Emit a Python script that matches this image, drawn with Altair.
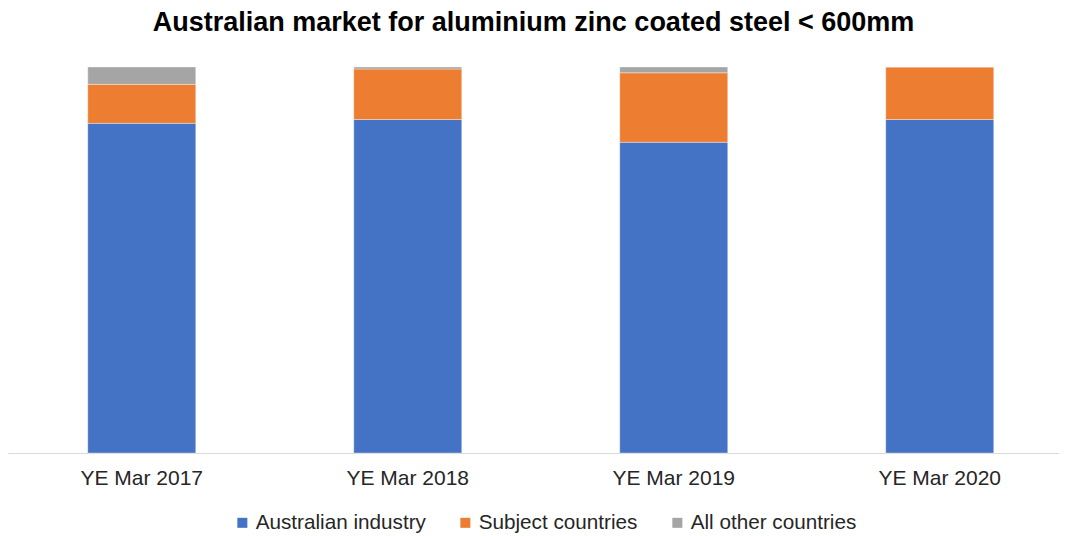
import altair as alt
import pandas as pd

categories = ["YE Mar 2017", "YE Mar 2018", "YE Mar 2019", "YE Mar 2020"]
series = ["Australian industry", "Subject countries", "All other countries"]
australian_industry = [85.4, 86.4, 80.5, 86.4]
subject_countries = [10.1, 13.1, 18.0, 13.6]
all_other_countries = [4.5, 0.5, 1.5, 0.0]
colors = ["#4472C4", "#ED7D31", "#A5A5A5"]

rows = []
for i, c in enumerate(categories):
    for k, (s, vals) in enumerate(zip(series, [australian_industry, subject_countries, all_other_countries])):
        rows.append({"period": c, "series": s, "value": vals[i], "order": k})
df = pd.DataFrame(rows)

FONT = "Liberation Sans"

chart = alt.Chart(df).mark_bar(stroke="#ffffff", strokeWidth=0.6, strokeOpacity=0.6).encode(
    x=alt.X("period:N", sort=categories,
            scale=alt.Scale(paddingInner=0.594, paddingOuter=0.2726, align=0.55),
            axis=alt.Axis(title=None, labelAngle=0, ticks=False, labelFontSize=21,
                          labelFont=FONT, labelColor="#262626", labelPadding=14,
                          domainColor="#d9d9d9", domainWidth=1.2)),
    y=alt.Y("value:Q", stack="normalize", axis=None, scale=alt.Scale(domain=[0, 1])),
    color=alt.Color("series:N", sort=series,
                    scale=alt.Scale(domain=series, range=colors),
                    legend=alt.Legend(title=None, orient="none", direction="horizontal",
                                      legendX=224, legendY=445, padding=0, labelLimit=400,
                                      labelFontSize=20.7, labelFont=FONT, labelColor="#262626",
                                      symbolType="square", symbolSize=100, symbolStrokeWidth=0,
                                      columnPadding=29, labelOffset=3)),
    order=alt.Order("order:Q", sort="ascending"),
).properties(
    width=1051, height=386, padding=0,
    title=alt.TitleParams("Australian market for aluminium zinc coated steel < 600mm",
                          font=FONT, fontSize=27, fontWeight="bold", color="#000000",
                          anchor="middle", offset=31, dy=1),
).configure_view(stroke=None)

chart.save("out.html", embed_options={"renderer": "svg", "actions": False})
